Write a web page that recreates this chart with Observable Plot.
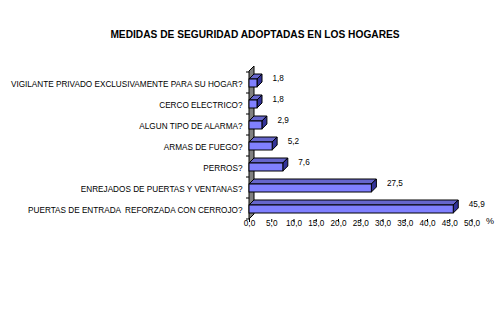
<!DOCTYPE html>
<html>
<head>
<meta charset="utf-8">
<script src="https://cdn.jsdelivr.net/npm/d3@7"></script>
<script src="https://cdn.jsdelivr.net/npm/@observablehq/plot@0.6"></script>
<style>
  html, body { margin: 0; padding: 0; background: #fff; }
  #wrap { width: 502px; height: 325px; position: relative; overflow: hidden; }
  #title { position: absolute; left: 0; top: 29px; width: 510px; text-align: center;
    font: bold 10.2px "Liberation Sans", Arial, sans-serif; color: #000; }
  #chart { position: absolute; left: 0; top: 44px; }
</style>
</head>
<body>
<div id="wrap">
  <div id="title">MEDIDAS DE SEGURIDAD ADOPTADAS EN LOS HOGARES</div>
  <div id="chart"></div>
</div>
<script>
const categories = [
  "VIGILANTE PRIVADO EXCLUSIVAMENTE PARA SU HOGAR?",
  "CERCO ELECTRICO?",
  "ALGUN TIPO DE ALARMA?",
  "ARMAS DE FUEGO?",
  "PERROS?",
  "ENREJADOS DE PUERTAS Y VENTANAS?",
  "PUERTAS DE ENTRADA  REFORZADA CON CERROJO?"
];
const values = [1.8, 1.8, 2.9, 5.2, 7.6, 27.5, 45.9];
const xTicks = [0, 5, 10, 15, 20, 25, 30, 35, 40, 45, 50];
const unitLabel = "%";

const data = categories.map((c, i) => ({category: c, value: values[i]}));
const fmt = d => d.toFixed(1).replace(".", ",");

const W = 502, H = 281;
const FRONT = "#8080ff";
const chart = Plot.plot({
  width: W, height: H,
  marginLeft: 249, marginRight: 30.5, marginTop: 27, marginBottom: 106,
  style: {fontFamily: "'Liberation Sans', Arial, sans-serif", fontSize: "8.2px", color: "#000", background: "#fff"},
  x: {domain: [0, 50], ticks: xTicks, tickFormat: fmt, label: null},
  y: {domain: categories, paddingInner: 0.6, paddingOuter: 0.3, label: null},
  marks: [
    Plot.axisX({ticks: xTicks, tickFormat: fmt, tickSize: 3, tickPadding: -2, label: null, line: true, stroke: "#000"}),
    Plot.axisY({tickSize: 0, tickPadding: 7, dy: 1.5, label: null, textAnchor: "end"}),
    Plot.ruleY(categories, {y: d => d, x1: 0, x2: 0.7, dx: -3, dy: -10.5, stroke: "#000"}),
    Plot.ruleY([categories[categories.length - 1]], {y: d => d, x1: 0, x2: 0.7, dx: -3, dy: 10.5, stroke: "#000"}),
    Plot.barX(data, {x: "value", y: "category", fill: FRONT, stroke: "#000", strokeWidth: 1, dy: 1}),
    Plot.text(data, {x: "value", y: "category", text: d => fmt(d.value), textAnchor: "start", dx: 15, dy: -4, fill: "#000"}),
    Plot.text([unitLabel], {frameAnchor: "bottom-right", text: d => d, textAnchor: "start", dx: 14, dy: 4.5, fontSize: 9, fill: "#000"})
  ]
});
document.getElementById("chart").appendChild(chart);

// 3D faces derived from the library's rendered bars and scales
const svg = d3.select(chart);
const D = 5; // depth in px
const xs = chart.scale("x");
const x0 = xs.apply(0);
const yTop = 27, yBot = H - 106;
const pts = a => a.map(p => p.join(",")).join(" ");
// back wall (grey parallelogram)
svg.insert("polygon", "g")
  .attr("points", pts([[x0, yTop], [x0 + D, yTop - D], [x0 + D, yBot - D], [x0, yBot]]))
  .attr("fill", "#808080").attr("stroke", "#000").attr("stroke-width", 1);

svg.selectAll("rect").filter(function() {
  const f = this.getAttribute("fill") || (this.parentNode && this.parentNode.getAttribute("fill"));
  return f === FRONT;
}).each(function() {
  const x = +this.getAttribute("x"), y = +this.getAttribute("y");
  const w = +this.getAttribute("width"), h = +this.getAttribute("height");
  const g = d3.select(this.parentNode);
  g.insert("polygon", "rect").attr("points", pts([[x, y], [x + w, y], [x + w + D, y - D], [x + D, y - D]]))
    .attr("fill", "#6666cc").attr("stroke", "#000");
  g.insert("polygon", "rect").attr("points", pts([[x + w, y], [x + w + D, y - D], [x + w + D, y + h - D], [x + w, y + h]]))
    .attr("fill", "#333399").attr("stroke", "#000");
});
</script>
</body>
</html>
